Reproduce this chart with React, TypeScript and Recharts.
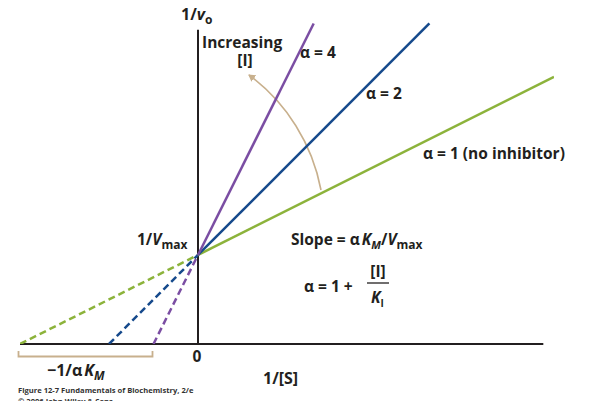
import { LineChart, Line, XAxis, YAxis, ReferenceLine } from 'recharts';

// Lineweaver–Burk plot, competitive inhibition (units: x in 1/K_M, y in 1/V_max)
const seriesNames = ['α = 1 (no inhibitor)', 'α = 2', 'α = 4'];
const seriesColors = ['#8cb33b', '#164a8c', '#7b4ea3'];
const xIntercepts = [-1, -0.5, -0.25]; // -1/αK_M
const yIntercept = 1; // 1/V_max
const solidEndX = [2, 1.3, 0.65];
const solidEndY = [3, 3.6, 3.6];

const X_DOMAIN = [-1, 2];
const Y_DOMAIN = [0, 3.65];
const W = 591;
const H = 401;
const M = { top: 19, right: 37, bottom: 57, left: 20 };

const FONT = '"Open Sans", "Noto Sans", sans-serif';
const TAN = '#c8b08d';
const INK = '#231f20';
const FS = 15.5;

const dashedSeries = xIntercepts.map((x0) => [
  { x: x0, y: 0 },
  { x: 0, y: yIntercept },
]);
const solidSeries = solidEndX.map((x1, i) => [
  { x: 0, y: yIntercept },
  { x: x1, y: solidEndY[i] },
]);

const txt = { fontFamily: FONT, fontWeight: 700, fill: INK } as const;

function Annotations() {
  return (
    <g>
      {/* arc arrow: increasing [I] */}
      <defs>
        <marker id="tip" markerWidth="8" markerHeight="8" refX="6" refY="4" orient="auto" markerUnits="userSpaceOnUse">
          <path d="M0,0 L7,4 L0,8 Z" fill={TAN} />
        </marker>
      </defs>
      <path d="M 321 190 A 186 186 0 0 0 249 75" fill="none" stroke={TAN} strokeWidth={1.6} markerEnd="url(#tip)" />

      {/* bracket under the x axis */}
      <path d="M 18.5 351 L 18.5 356.5 L 152.5 356.5 L 152.5 351" fill="none" stroke={TAN} strokeWidth={1.8} />

      <text x={181} y={20} fontSize={16} {...txt}>
        1/<tspan fontStyle="italic">v</tspan>
        <tspan fontSize={12} dy={4}>o</tspan>
      </text>

      <text x={202} y={48} fontSize={FS} {...txt}>Increasing</text>
      <text x={245} y={66} fontSize={FS} textAnchor="middle" {...txt}>[I]</text>

      <text x={300} y={58} fontSize={FS} {...txt}>{seriesNames[2]}</text>
      <text x={366} y={99} fontSize={FS} {...txt}>{seriesNames[1]}</text>
      <text x={423} y={159} fontSize={FS} {...txt}>{seriesNames[0]}</text>

      <text x={137} y={245} fontSize={FS} {...txt}>
        1/<tspan fontStyle="italic">V</tspan>
        <tspan fontSize={12} dy={4}>max</tspan>
      </text>

      <text x={291} y={245} fontSize={FS} {...txt}>
        Slope = α<tspan fontStyle="italic" dx={2}>K</tspan>
        <tspan fontStyle="italic" fontSize={11} dy={4}>M</tspan>
        <tspan dy={-4}>/</tspan>
        <tspan fontStyle="italic">V</tspan>
        <tspan fontSize={12} dy={4}>max</tspan>
      </text>

      <text x={304} y={292} fontSize={FS} {...txt}>α = 1 +</text>
      <text x={378} y={277} fontSize={FS} textAnchor="middle" {...txt}>[I]</text>
      <line x1={367} y1={283} x2={389} y2={283} stroke={INK} strokeWidth={1.3} />
      <text x={371} y={303} fontSize={FS} {...txt}>
        <tspan fontStyle="italic">K</tspan>
        <tspan fontSize={10} dy={4}>I</tspan>
      </text>

      <text x={197} y={362} fontSize={FS} textAnchor="middle" {...txt}>0</text>
      <text x={263} y={384} fontSize={16} {...txt}>1/[S]</text>

      <text x={47} y={376} fontSize={16} {...txt}>
        −1/α<tspan fontStyle="italic" dx={2}>K</tspan>
        <tspan fontStyle="italic" fontSize={12} dy={4}>M</tspan>
      </text>

      <text x={18} y={393} fontSize={7.6} {...txt} fill="#333">
        Figure 12-7  Fundamentals of Biochemistry, 2/e
      </text>
      <text x={18} y={404} fontSize={7.6} {...txt} fill="#333">
        © 2006 John Wiley &amp; Sons
      </text>
    </g>
  );
}

export default function App() {
  return (
    <div style={{ position: 'absolute', left: 0, top: 0, width: W, height: H, background: '#fff' }}>
      <LineChart width={W} height={H} margin={M}>
        <XAxis type="number" dataKey="x" domain={X_DOMAIN} hide allowDataOverflow />
        <YAxis type="number" dataKey="y" domain={Y_DOMAIN} hide allowDataOverflow width={0} />

        <ReferenceLine segment={[{ x: -1, y: 0 }, { x: 1.94, y: 0 }]} stroke={INK} strokeWidth={2} />
        <ReferenceLine segment={[{ x: 0, y: 0 }, { x: 0, y: 3.53 }]} stroke={INK} strokeWidth={2} />

        {dashedSeries.map((d, i) => (
          <Line
            key={'d' + i}
            data={d}
            dataKey="y"
            type="linear"
            stroke={seriesColors[i]}
            strokeWidth={2.5}
            strokeDasharray="7 4"
            dot={false}
            activeDot={false}
            isAnimationActive={false}
          />
        ))}
        {solidSeries.map((d, i) => (
          <Line
            key={'s' + i}
            data={d}
            dataKey="y"
            type="linear"
            stroke={seriesColors[i]}
            strokeWidth={2.5}
            dot={false}
            activeDot={false}
            isAnimationActive={false}
          />
        ))}

        <Annotations />
      </LineChart>
    </div>
  );
}
